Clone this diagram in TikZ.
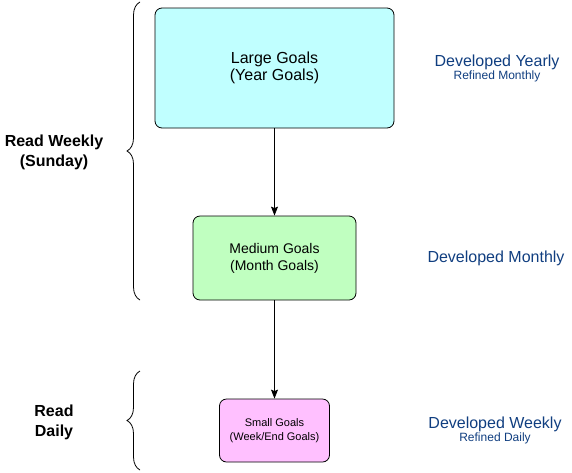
\documentclass[tikz,border=0pt]{standalone}
\usepackage{fontspec}
\setmainfont{Liberation Sans}
\usetikzlibrary{decorations.pathreplacing, arrows.meta}
\definecolor{cyanfill}{RGB}{192,255,255}
\definecolor{greenfill}{RGB}{192,255,192}
\definecolor{pinkfill}{RGB}{255,192,255}
\definecolor{noteblue}{RGB}{16,62,128}
\tikzset{
	goal/.style={draw=black, rounded corners=7pt, align=center, inner sep=0pt, line width=0.8pt},
	note/.style={text=noteblue, align=center},
	readlabel/.style={font=\bfseries\fontsize{16}{20}\selectfont, align=center},
	curly/.style={decorate, decoration={brace, amplitude=13pt}, line width=0.8pt}
}

\begin{document}
\begin{tikzpicture}[x=1pt, y=-1pt]
\useasboundingbox (0,0) rectangle (572,472);
% goal boxes
\node[goal, fill=cyanfill, minimum width=239pt, minimum height=120pt, font=\fontsize{16}{17}\selectfont] (large) at (274.5,68) {Large Goals\\(Year Goals)};
\node[goal, fill=greenfill, minimum width=163pt, minimum height=84pt, font=\fontsize{14}{17}\selectfont] (medium) at (274.5,258) {Medium Goals\\(Month Goals)};
\node[goal, fill=pinkfill, minimum width=110pt, minimum height=63pt, font=\fontsize{11}{14}\selectfont] (small) at (274.5,430.5) {Small Goals\\(Week/End Goals)};
\draw[black, line width=0.8pt, -{Stealth[length=9pt, width=7pt, inset=1.5pt]}](large)--(medium);
\draw[black, line width=0.8pt, -{Stealth[length=9pt, width=7pt, inset=1.5pt]}](medium)--(small);

% braces
\coordinate (weeklytop) at (140,2);
\coordinate (weeklybot) at (140,300);
\coordinate (dailytop) at (140,371);
\coordinate (dailybot) at (140,470);
\draw[curly](weeklybot)--(weeklytop);
\draw[curly](dailybot)--(dailytop);
\node[readlabel] (weekly) at (54,152) {Read Weekly\\(Sunday)};
\node[readlabel] (daily) at (54,422) {Read\\Daily};

% notes on the right
\node[note] (yearly) at (497,68) {{\fontsize{16}{16}\selectfont Developed Yearly}\\{\fontsize{12}{13}\selectfont Refined Monthly}};
\node[note, font=\fontsize{16}{16}\selectfont] (monthly) at (496,258) {Developed Monthly};
\node[note] (weeklynote) at (495,430) {{\fontsize{16}{16}\selectfont Developed Weekly}\\{\fontsize{12}{13}\selectfont Refined Daily}};
\end{tikzpicture}
\end{document}
